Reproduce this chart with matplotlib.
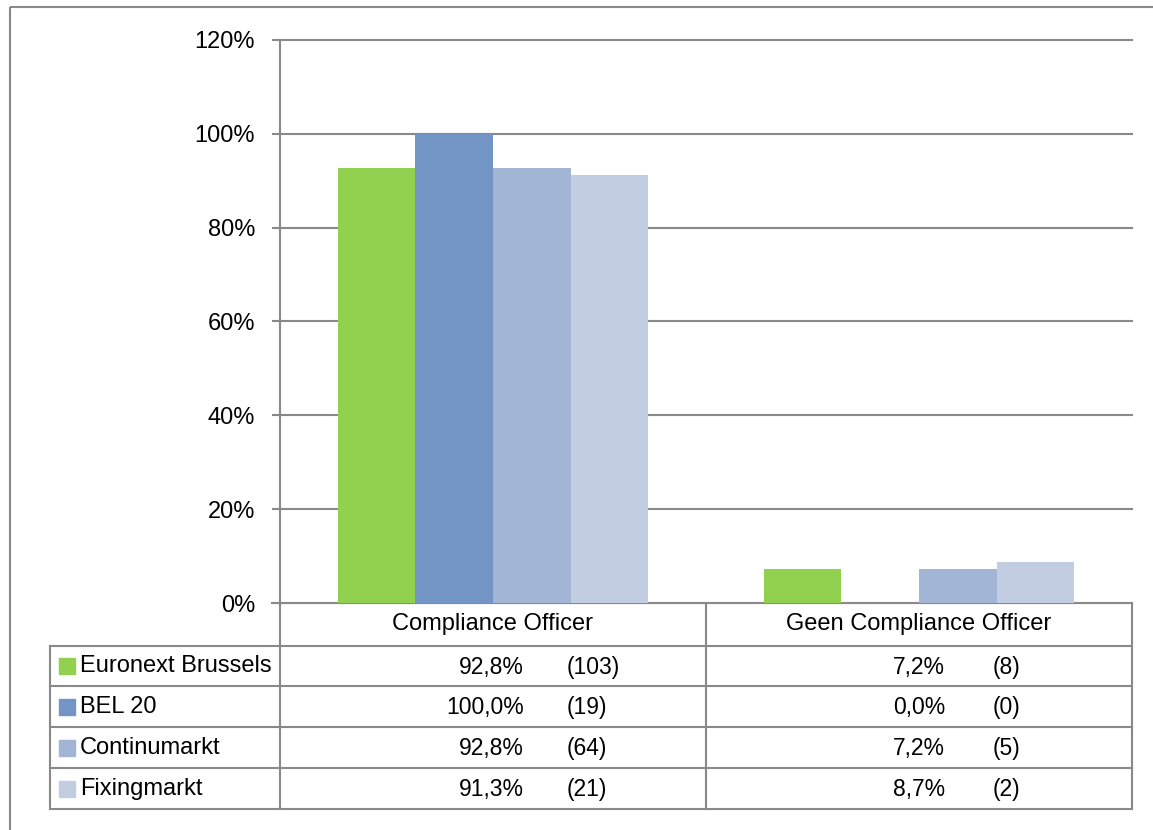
import numpy as np
import matplotlib.pyplot as plt
from matplotlib.patches import Rectangle
from matplotlib.lines import Line2D

categories = ['Compliance Officer', 'Geen Compliance Officer']
series = ['Euronext Brussels', 'BEL 20', 'Continumarkt', 'Fixingmarkt']
pct = {
    'Euronext Brussels': [92.8, 7.2],
    'BEL 20': [100.0, 0.0],
    'Continumarkt': [92.8, 7.2],
    'Fixingmarkt': [91.3, 8.7],
}
counts = {
    'Euronext Brussels': [103, 8],
    'BEL 20': [19, 0],
    'Continumarkt': [64, 5],
    'Fixingmarkt': [21, 2],
}
colors = ['#92d050', '#7395c5', '#a2b5d5', '#c3cde2']
yticks = [0, 20, 40, 60, 80, 100, 120]

W, H = 1153, 830
label_font = ['Liberation Sans']
val_font = ['Liberation Sans']
grid_c = '#898989'

fig = plt.figure(figsize=(W / 100, H / 100), dpi=100, facecolor='w')
ax = fig.add_axes([280 / W, 1 - 603 / H, (1132 - 280) / W, (603 - 40) / H])

x = np.arange(len(categories))
bw = 0.728 / len(series)
for i, s in enumerate(series):
    ax.bar(x + (i - 1.5) * bw, pct[s], bw, color=colors[i], zorder=2)

ax.set_xlim(-0.5, len(categories) - 0.5)
ax.set_ylim(0, 120)
ax.set_yticks(yticks)
ax.set_yticklabels([f'{t}%' for t in yticks], fontfamily=label_font, fontsize=17)
ax.set_xticks([])
ax.yaxis.grid(True, color=grid_c, linewidth=1.5, zorder=1)
for gl in ax.get_ygridlines():
    gl.set_clip_on(False)
ax.tick_params(axis='y', length=6, width=1.5, color=grid_c, pad=12)
for side in ['top', 'right', 'bottom']:
    ax.spines[side].set_visible(False)
ax.spines['left'].set_color(grid_c)
ax.spines['left'].set_linewidth(1.5)

# data table under the chart, drawn in pixel coordinates
tab = fig.add_axes([0, 0, 1, 1], zorder=-1)
tab.set_xlim(0, W)
tab.set_ylim(H, 0)
tab.axis('off')

def px(xd):
    return ax.transData.transform((xd, 0))[0]

col_edges = [px(-0.5 + k) for k in range(len(categories) + 1)]
left_edge = 50
row_tops = [603, 646, 686, 727, 768, 809]
lw = 1.5

tab.add_patch(Rectangle((10, 7), W, H, fill=False, edgecolor=grid_c, linewidth=1.5))
tab.add_line(Line2D([272, col_edges[-1]], [603, 603], color=grid_c, lw=lw))
for yy in row_tops[1:]:
    tab.add_line(Line2D([left_edge, col_edges[-1]], [yy, yy], color=grid_c, lw=lw))
for xx in col_edges:
    tab.add_line(Line2D([xx, xx], [603, row_tops[-1]], color=grid_c, lw=lw))
tab.add_line(Line2D([left_edge, left_edge], [row_tops[1], row_tops[-1]], color=grid_c, lw=lw))

for k, c in enumerate(categories):
    tab.text((col_edges[k] + col_edges[k + 1]) / 2, 624, c, ha='center', va='center',
             fontfamily=label_font, fontsize=17)

pct_off = [31, 26]
cnt_off = [74, 74]
for r, s in enumerate(series):
    yc = (row_tops[r + 1] + row_tops[r + 2]) / 2
    tab.add_patch(Rectangle((59, yc - 8), 16, 16, color=colors[r]))
    tab.text(80, yc, s, ha='left', va='center', fontfamily=label_font, fontsize=17)
    for k in range(len(categories)):
        cx = (col_edges[k] + col_edges[k + 1]) / 2
        tab.text(cx + pct_off[k], yc + 1, f'{pct[s][k]:.1f}%'.replace('.', ','),
                 ha='right', va='center', fontfamily=val_font, fontsize=16.5)
        tab.text(cx + cnt_off[k], yc + 1, f'({counts[s][k]})',
                 ha='left', va='center', fontfamily=val_font, fontsize=16.5)

fig.savefig('out.png', dpi=100, facecolor='w')
